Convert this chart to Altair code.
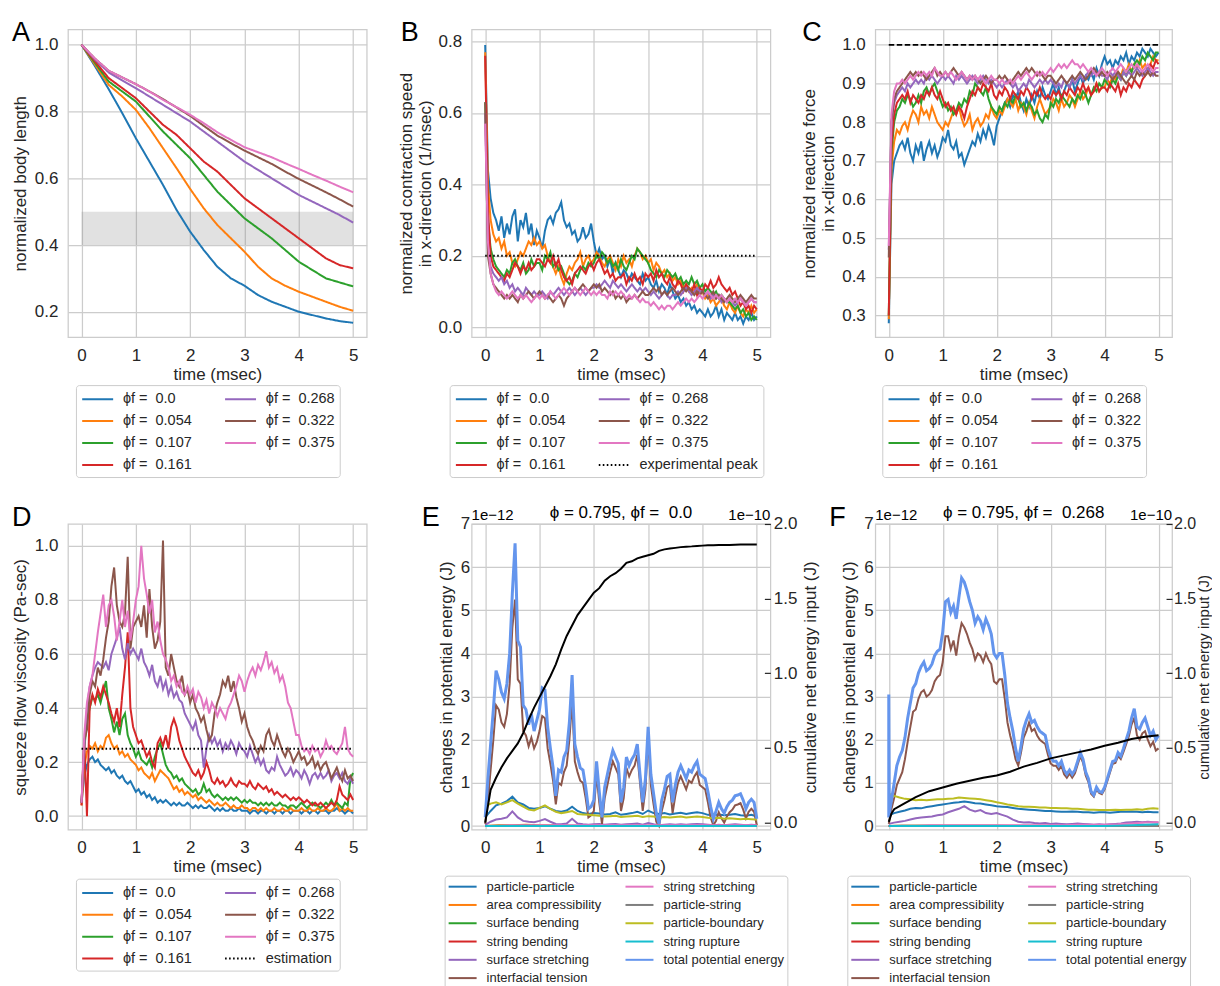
import altair as alt
import pandas as pd

FONT = "Liberation Sans"
INK = "#262626"
GRID = "#cccccc"

T05 = [round(0.05 * i, 2) for i in range(101)]
T10 = [round(0.1 * i, 1) for i in range(51)]
T25 = [round(0.25 * i, 2) for i in range(21)]

PHI = ["0.0", "0.054", "0.107", "0.161", "0.268", "0.322", "0.375"]
PHI_COLORS = ["#1f77b4", "#ff7f0e", "#2ca02c", "#d62728", "#9467bd", "#8c564b", "#e377c2"]
PHI_LABELS = ["ϕf = \u00a0" + p for p in PHI]

# ---------------- Panel A: normalized body length (T25) ----------------
A_VALS = [
    [1.0, 0.935, 0.867, 0.795, 0.72, 0.65, 0.58, 0.505, 0.44, 0.385, 0.335, 0.30, 0.278, 0.25, 0.23, 0.215, 0.20, 0.19, 0.18, 0.172, 0.167],
    [1.0, 0.94, 0.88, 0.845, 0.805, 0.75, 0.69, 0.63, 0.568, 0.51, 0.46, 0.42, 0.38, 0.335, 0.30, 0.278, 0.26, 0.245, 0.23, 0.215, 0.203],
    [1.0, 0.945, 0.89, 0.86, 0.83, 0.785, 0.74, 0.70, 0.66, 0.61, 0.56, 0.52, 0.48, 0.45, 0.42, 0.385, 0.35, 0.325, 0.30, 0.288, 0.276],
    [1.0, 0.95, 0.90, 0.87, 0.84, 0.80, 0.76, 0.73, 0.69, 0.65, 0.62, 0.58, 0.54, 0.51, 0.48, 0.45, 0.42, 0.39, 0.36, 0.34, 0.33],
    [1.0, 0.955, 0.917, 0.893, 0.87, 0.845, 0.82, 0.795, 0.77, 0.74, 0.71, 0.68, 0.65, 0.625, 0.60, 0.575, 0.55, 0.53, 0.51, 0.49, 0.467],
    [1.0, 0.958, 0.922, 0.902, 0.882, 0.86, 0.837, 0.812, 0.787, 0.757, 0.728, 0.705, 0.683, 0.663, 0.643, 0.62, 0.598, 0.578, 0.558, 0.537, 0.515],
    [1.0, 0.958, 0.922, 0.902, 0.882, 0.86, 0.835, 0.813, 0.79, 0.765, 0.738, 0.715, 0.693, 0.678, 0.663, 0.645, 0.628, 0.61, 0.593, 0.575, 0.558],
]
A_BAND = {"t0": [0.0], "t1": [5.0], "lo": [0.4], "hi": [0.5]}

# ---------------- Panel B: contraction speed (T05) ----------------
B_VALS = [
    [0.79, 0.44, 0.36, 0.32, 0.30, 0.27, 0.31, 0.25, 0.29, 0.26, 0.31, 0.33, 0.24, 0.30, 0.28, 0.32, 0.26, 0.29, 0.23, 0.27,
     0.25, 0.22, 0.27, 0.30, 0.31, 0.29, 0.32, 0.33, 0.35, 0.30, 0.28, 0.29, 0.26, 0.27, 0.24, 0.25, 0.28, 0.25, 0.26, 0.29,
     0.24, 0.20, 0.22, 0.19, 0.20, 0.17, 0.19, 0.15, 0.18, 0.16, 0.14, 0.16, 0.15, 0.13, 0.15, 0.14, 0.13, 0.12, 0.15, 0.13,
     0.14, 0.12, 0.11, 0.13, 0.10, 0.12, 0.11, 0.09, 0.12, 0.10, 0.08, 0.09, 0.07, 0.08, 0.06, 0.07, 0.05, 0.06, 0.04, 0.05,
     0.04, 0.03, 0.05, 0.03, 0.04, 0.06, 0.03, 0.05, 0.02, 0.04, 0.03, 0.02, 0.04, 0.02, 0.03, 0.01, 0.03, 0.02, 0.04, 0.02, 0.03],
    [0.77, 0.40, 0.30, 0.26, 0.24, 0.25, 0.22, 0.24, 0.20, 0.21, 0.18, 0.17, 0.19, 0.21, 0.20, 0.22, 0.24, 0.23, 0.25, 0.23,
     0.24, 0.22, 0.23, 0.20, 0.18, 0.17, 0.15, 0.17, 0.14, 0.12, 0.15, 0.17, 0.16, 0.18, 0.19, 0.21, 0.17, 0.19, 0.20, 0.18,
     0.19, 0.21, 0.20, 0.18, 0.17, 0.19, 0.20, 0.18, 0.16, 0.19, 0.17, 0.20, 0.18, 0.19, 0.17, 0.20, 0.22, 0.21, 0.19, 0.20,
     0.18, 0.19, 0.16, 0.18, 0.17, 0.15, 0.16, 0.14, 0.15, 0.13, 0.14, 0.12, 0.13, 0.11, 0.12, 0.10, 0.11, 0.10, 0.12, 0.09,
     0.10, 0.08, 0.09, 0.07, 0.08, 0.06, 0.07, 0.08, 0.06, 0.05, 0.07, 0.05, 0.04, 0.06, 0.04, 0.03, 0.05, 0.04, 0.06, 0.04, 0.05],
    [0.63, 0.30, 0.22, 0.19, 0.17, 0.16, 0.15, 0.14, 0.16, 0.15, 0.18, 0.19, 0.17, 0.16, 0.18, 0.15, 0.16, 0.19, 0.17, 0.18,
     0.18, 0.16, 0.20, 0.19, 0.21, 0.17, 0.18, 0.16, 0.17, 0.15, 0.13, 0.12, 0.13, 0.15, 0.14, 0.16, 0.17, 0.16, 0.18, 0.17,
     0.18, 0.20, 0.19, 0.21, 0.20, 0.18, 0.19, 0.17, 0.18, 0.16, 0.19, 0.17, 0.16, 0.18, 0.20, 0.19, 0.22, 0.21, 0.20, 0.19,
     0.18, 0.16, 0.15, 0.14, 0.16, 0.15, 0.14, 0.16, 0.15, 0.14, 0.15, 0.13, 0.14, 0.12, 0.13, 0.12, 0.14, 0.12, 0.13, 0.11,
     0.12, 0.10, 0.11, 0.10, 0.09, 0.10, 0.08, 0.09, 0.08, 0.07, 0.07, 0.06, 0.05, 0.06, 0.04, 0.05, 0.03, 0.04, 0.02, 0.03, 0.02],
    [0.76, 0.33, 0.20, 0.17, 0.16, 0.15, 0.14, 0.13, 0.15, 0.14, 0.16, 0.18, 0.17, 0.15, 0.17, 0.16, 0.18, 0.16, 0.17, 0.19,
     0.19, 0.18, 0.17, 0.19, 0.18, 0.20, 0.17, 0.19, 0.16, 0.14, 0.13, 0.14, 0.12, 0.15, 0.16, 0.17, 0.16, 0.15, 0.17, 0.18,
     0.16, 0.18, 0.19, 0.17, 0.15, 0.16, 0.14, 0.15, 0.13, 0.14, 0.14, 0.15, 0.12, 0.14, 0.13, 0.15, 0.13, 0.14, 0.12, 0.15,
     0.14, 0.15, 0.13, 0.16, 0.14, 0.15, 0.13, 0.12, 0.14, 0.12, 0.11, 0.13, 0.12, 0.10, 0.12, 0.11, 0.10, 0.12, 0.09, 0.11,
     0.10, 0.12, 0.11, 0.13, 0.11, 0.12, 0.14, 0.12, 0.11, 0.10, 0.11, 0.09, 0.10, 0.08, 0.06, 0.07, 0.05, 0.06, 0.04, 0.06, 0.05],
    [0.60, 0.22, 0.17, 0.15, 0.14, 0.13, 0.14, 0.12, 0.13, 0.11, 0.12, 0.10, 0.11, 0.10, 0.09, 0.11, 0.10, 0.09, 0.10, 0.09,
     0.09, 0.10, 0.09, 0.08, 0.10, 0.09, 0.10, 0.11, 0.10, 0.09, 0.10, 0.11, 0.10, 0.09, 0.10, 0.11, 0.10, 0.09, 0.10, 0.11,
     0.11, 0.12, 0.11, 0.12, 0.13, 0.12, 0.11, 0.13, 0.12, 0.11, 0.12, 0.11, 0.10, 0.11, 0.12, 0.11, 0.10, 0.11, 0.10, 0.11,
     0.10, 0.09, 0.10, 0.09, 0.08, 0.09, 0.10, 0.09, 0.08, 0.09, 0.09, 0.10, 0.09, 0.10, 0.11, 0.10, 0.09, 0.10, 0.11, 0.10,
     0.10, 0.09, 0.10, 0.08, 0.09, 0.08, 0.09, 0.07, 0.08, 0.07, 0.08, 0.07, 0.06, 0.07, 0.08, 0.07, 0.06, 0.07, 0.08, 0.07, 0.07],
    [0.63, 0.20, 0.15, 0.12, 0.11, 0.10, 0.09, 0.08, 0.09, 0.08, 0.09, 0.08, 0.07, 0.09, 0.08, 0.09, 0.10, 0.09, 0.08, 0.09,
     0.10, 0.09, 0.08, 0.09, 0.08, 0.07, 0.08, 0.09, 0.08, 0.06, 0.08, 0.09, 0.10, 0.11, 0.10, 0.11, 0.12, 0.11, 0.10, 0.11,
     0.12, 0.11, 0.12, 0.10, 0.11, 0.10, 0.09, 0.10, 0.08, 0.09, 0.08, 0.09, 0.07, 0.08, 0.08, 0.09, 0.08, 0.09, 0.10, 0.09,
     0.09, 0.10, 0.11, 0.10, 0.11, 0.09, 0.10, 0.09, 0.10, 0.11, 0.10, 0.09, 0.10, 0.11, 0.10, 0.11, 0.10, 0.09, 0.10, 0.09,
     0.10, 0.09, 0.08, 0.09, 0.10, 0.08, 0.09, 0.08, 0.07, 0.08, 0.09, 0.08, 0.07, 0.08, 0.09, 0.08, 0.07, 0.08, 0.09, 0.08, 0.08],
    [0.57, 0.24, 0.15, 0.12, 0.10, 0.09, 0.10, 0.09, 0.08, 0.09, 0.10, 0.09, 0.08, 0.09, 0.08, 0.09, 0.08, 0.07, 0.08, 0.09,
     0.08, 0.09, 0.08, 0.09, 0.10, 0.09, 0.08, 0.09, 0.10, 0.11, 0.10, 0.09, 0.10, 0.11, 0.10, 0.09, 0.10, 0.11, 0.10, 0.09,
     0.10, 0.09, 0.10, 0.09, 0.09, 0.08, 0.10, 0.09, 0.10, 0.09, 0.10, 0.09, 0.08, 0.09, 0.08, 0.09, 0.08, 0.07, 0.08, 0.07,
     0.07, 0.06, 0.07, 0.06, 0.05, 0.06, 0.05, 0.06, 0.06, 0.05, 0.06, 0.07, 0.06, 0.07, 0.08, 0.07, 0.08, 0.07, 0.08, 0.09,
     0.08, 0.09, 0.10, 0.09, 0.08, 0.09, 0.08, 0.09, 0.08, 0.07, 0.08, 0.07, 0.08, 0.07, 0.08, 0.07, 0.06, 0.07, 0.08, 0.07, 0.07],
]
B_PEAK = 0.2

# ---------------- Panel C: reactive force (T05) ----------------
C_VALS = [
    [0.28, 0.64, 0.70, 0.72, 0.74, 0.75, 0.73, 0.76, 0.72, 0.70, 0.74, 0.72, 0.75, 0.70, 0.73, 0.75, 0.72, 0.74, 0.71, 0.73,
     0.76, 0.75, 0.78, 0.74, 0.73, 0.75, 0.71, 0.72, 0.69, 0.71, 0.73, 0.75, 0.74, 0.77, 0.75, 0.78, 0.76, 0.79, 0.77, 0.74,
     0.79, 0.81, 0.83, 0.85, 0.86, 0.84, 0.87, 0.86, 0.88, 0.85, 0.83, 0.86, 0.84, 0.87, 0.85, 0.88, 0.86, 0.89, 0.87, 0.86,
     0.88, 0.90, 0.87, 0.89, 0.86, 0.88, 0.90, 0.89, 0.91, 0.88, 0.90, 0.92, 0.90, 0.92, 0.91, 0.93, 0.91, 0.94, 0.92, 0.95,
     0.97, 0.95, 0.96, 0.94, 0.96, 0.95, 0.97, 0.96, 0.98, 0.95, 0.97, 0.96, 0.98, 0.97, 0.99, 0.98, 0.97, 0.99, 0.98, 0.97, 0.98],
    [0.29, 0.68, 0.75, 0.78, 0.77, 0.79, 0.80, 0.78, 0.81, 0.83, 0.82, 0.80, 0.84, 0.82, 0.83, 0.81, 0.84, 0.82, 0.80, 0.79,
     0.78, 0.80, 0.79, 0.81, 0.83, 0.82, 0.84, 0.81, 0.79, 0.80, 0.82, 0.78, 0.80, 0.81, 0.79, 0.80, 0.82, 0.81, 0.84, 0.82,
     0.81, 0.83, 0.82, 0.84, 0.86, 0.85, 0.84, 0.86, 0.83, 0.85, 0.84, 0.82, 0.85, 0.83, 0.81, 0.84, 0.86, 0.84, 0.82, 0.83,
     0.84, 0.86, 0.85, 0.83, 0.86, 0.84, 0.85, 0.87, 0.86, 0.84, 0.86, 0.88, 0.86, 0.87, 0.89, 0.87, 0.88, 0.90, 0.88, 0.89,
     0.89, 0.91, 0.90, 0.92, 0.91, 0.93, 0.92, 0.94, 0.93, 0.95, 0.93, 0.95, 0.94, 0.96, 0.94, 0.95, 0.93, 0.95, 0.97, 0.96, 0.96],
    [0.30, 0.72, 0.80, 0.83, 0.84, 0.86, 0.85, 0.87, 0.86, 0.84, 0.85, 0.87, 0.85, 0.88, 0.89, 0.87, 0.89, 0.90, 0.88, 0.86,
     0.84, 0.85, 0.83, 0.84, 0.82, 0.83, 0.85, 0.84, 0.86, 0.85, 0.88, 0.87, 0.90, 0.89, 0.88, 0.87, 0.89, 0.86, 0.84, 0.83,
     0.82, 0.84, 0.83, 0.85, 0.84, 0.86, 0.85, 0.87, 0.86, 0.84, 0.85, 0.83, 0.85, 0.84, 0.82, 0.83, 0.81, 0.80, 0.82, 0.81,
     0.85, 0.84, 0.86, 0.85, 0.87, 0.86, 0.85, 0.84, 0.86, 0.85, 0.87, 0.86, 0.88, 0.87, 0.85, 0.87, 0.89, 0.88, 0.90, 0.89,
     0.91, 0.90, 0.89, 0.91, 0.90, 0.92, 0.91, 0.93, 0.92, 0.94, 0.93, 0.95, 0.96, 0.95, 0.97, 0.96, 0.98, 0.97, 0.96, 0.98, 0.98],
    [0.30, 0.74, 0.82, 0.85, 0.86, 0.87, 0.86, 0.88, 0.85, 0.87, 0.86, 0.85, 0.87, 0.86, 0.88, 0.87, 0.89, 0.87, 0.86, 0.88,
     0.86, 0.84, 0.85, 0.83, 0.84, 0.82, 0.84, 0.83, 0.81, 0.84, 0.86, 0.88, 0.87, 0.89, 0.88, 0.90, 0.89, 0.88, 0.90, 0.87,
     0.86, 0.88, 0.87, 0.89, 0.88, 0.86, 0.88, 0.87, 0.86, 0.88, 0.87, 0.89, 0.88, 0.86, 0.88, 0.87, 0.89, 0.87, 0.86, 0.87,
     0.86, 0.88, 0.87, 0.88, 0.86, 0.88, 0.87, 0.89, 0.88, 0.87, 0.89, 0.88, 0.90, 0.88, 0.89, 0.87, 0.88, 0.90, 0.88, 0.89,
     0.89, 0.88, 0.90, 0.89, 0.88, 0.90, 0.87, 0.89, 0.88, 0.90, 0.89, 0.91, 0.90, 0.89, 0.91, 0.92, 0.93, 0.95, 0.94, 0.96, 0.95],
    [0.47, 0.80, 0.85, 0.87, 0.88, 0.89, 0.88, 0.90, 0.89, 0.90, 0.91, 0.90, 0.91, 0.90, 0.92, 0.91, 0.92, 0.91, 0.90, 0.91,
     0.92, 0.91, 0.92, 0.91, 0.90, 0.92, 0.91, 0.92, 0.91, 0.90, 0.91, 0.92, 0.91, 0.90, 0.91, 0.92, 0.91, 0.90, 0.91, 0.90,
     0.89, 0.90, 0.89, 0.90, 0.91, 0.90, 0.89, 0.90, 0.88, 0.89, 0.90, 0.89, 0.91, 0.90, 0.89, 0.90, 0.91, 0.90, 0.91, 0.90,
     0.91, 0.90, 0.89, 0.90, 0.89, 0.91, 0.90, 0.89, 0.91, 0.90, 0.91, 0.92, 0.91, 0.92, 0.93, 0.92, 0.93, 0.92, 0.93, 0.92,
     0.92, 0.91, 0.93, 0.92, 0.93, 0.92, 0.91, 0.93, 0.92, 0.93, 0.92, 0.93, 0.94, 0.93, 0.92, 0.93, 0.94, 0.93, 0.92, 0.93, 0.93],
    [0.45, 0.80, 0.86, 0.88, 0.89, 0.90, 0.91, 0.92, 0.93, 0.92, 0.93, 0.92, 0.93, 0.92, 0.91, 0.92, 0.93, 0.94, 0.92, 0.93,
     0.92, 0.93, 0.92, 0.93, 0.94, 0.93, 0.92, 0.93, 0.92, 0.91, 0.92, 0.91, 0.92, 0.91, 0.90, 0.91, 0.92, 0.91, 0.90, 0.91,
     0.91, 0.92, 0.91, 0.92, 0.91, 0.90, 0.91, 0.92, 0.93, 0.92, 0.93, 0.94, 0.93, 0.94, 0.93, 0.92, 0.93, 0.92, 0.91, 0.92,
     0.92, 0.91, 0.90, 0.91, 0.92, 0.91, 0.90, 0.91, 0.92, 0.91, 0.92, 0.93, 0.92, 0.91, 0.92, 0.93, 0.94, 0.93, 0.92, 0.93,
     0.92, 0.93, 0.92, 0.91, 0.92, 0.93, 0.92, 0.91, 0.90, 0.91, 0.92, 0.91, 0.93, 0.92, 0.93, 0.92, 0.93, 0.92, 0.93, 0.92, 0.92],
    [0.48, 0.82, 0.88, 0.90, 0.90, 0.91, 0.90, 0.91, 0.92, 0.91, 0.92, 0.93, 0.92, 0.93, 0.92, 0.93, 0.92, 0.94, 0.93, 0.92,
     0.92, 0.93, 0.92, 0.93, 0.92, 0.91, 0.92, 0.93, 0.92, 0.91, 0.92, 0.91, 0.92, 0.91, 0.92, 0.91, 0.90, 0.91, 0.92, 0.91,
     0.91, 0.90, 0.91, 0.90, 0.90, 0.91, 0.90, 0.91, 0.92, 0.91, 0.92, 0.93, 0.92, 0.91, 0.92, 0.93, 0.92, 0.93, 0.92, 0.93,
     0.94, 0.93, 0.94, 0.95, 0.94, 0.95, 0.94, 0.95, 0.96, 0.95, 0.95, 0.94, 0.95, 0.94, 0.93, 0.94, 0.93, 0.92, 0.93, 0.94,
     0.93, 0.92, 0.93, 0.94, 0.93, 0.94, 0.95, 0.94, 0.93, 0.94, 0.95, 0.94, 0.95, 0.94, 0.93, 0.94, 0.95, 0.94, 0.93, 0.94, 0.94],
]
C_REF = 1.0

# ---------------- Panel D: squeeze flow viscosity (T05) ----------------
D_VALS = [
    [0.05, 0.15, 0.19, 0.21, 0.22, 0.20, 0.21, 0.19, 0.18, 0.17, 0.18, 0.16, 0.17, 0.15, 0.14, 0.15, 0.13, 0.12, 0.13, 0.11,
     0.09, 0.10, 0.08, 0.09, 0.07, 0.08, 0.06, 0.07, 0.05, 0.06, 0.05, 0.06, 0.05, 0.04, 0.05, 0.04, 0.05, 0.04, 0.04, 0.05,
     0.04, 0.03, 0.04, 0.03, 0.04, 0.03, 0.03, 0.04, 0.03, 0.02, 0.03, 0.02, 0.03, 0.02, 0.02, 0.03, 0.02, 0.02, 0.03, 0.02,
     0.02, 0.02, 0.01, 0.02, 0.02, 0.01, 0.02, 0.02, 0.01, 0.02, 0.02, 0.01, 0.02, 0.02, 0.01, 0.02, 0.02, 0.01, 0.02, 0.02,
     0.02, 0.01, 0.02, 0.02, 0.01, 0.02, 0.02, 0.01, 0.02, 0.02, 0.02, 0.01, 0.02, 0.02, 0.03, 0.02, 0.02, 0.01, 0.02, 0.02, 0.01],
    [0.04, 0.18, 0.24, 0.26, 0.25, 0.27, 0.24, 0.26, 0.25, 0.29, 0.30, 0.27, 0.25, 0.26, 0.23, 0.24, 0.22, 0.23, 0.21, 0.20,
     0.19, 0.17, 0.18, 0.16, 0.15, 0.14, 0.16, 0.13, 0.15, 0.17, 0.16, 0.15, 0.14, 0.12, 0.10, 0.11, 0.09, 0.10, 0.08, 0.09,
     0.08, 0.07, 0.08, 0.06, 0.07, 0.06, 0.05, 0.06, 0.05, 0.04, 0.05, 0.04, 0.04, 0.05, 0.04, 0.03, 0.04, 0.03, 0.03, 0.04,
     0.03, 0.03, 0.02, 0.03, 0.03, 0.02, 0.03, 0.02, 0.03, 0.02, 0.02, 0.03, 0.02, 0.02, 0.03, 0.02, 0.02, 0.03, 0.02, 0.02,
     0.02, 0.03, 0.02, 0.02, 0.03, 0.02, 0.02, 0.03, 0.02, 0.02, 0.03, 0.02, 0.02, 0.03, 0.05, 0.02, 0.03, 0.02, 0.03, 0.02, 0.02],
    [0.05, 0.25, 0.35, 0.40, 0.44, 0.43, 0.45, 0.42, 0.46, 0.50, 0.40, 0.36, 0.31, 0.35, 0.30, 0.36, 0.38, 0.30, 0.27, 0.25,
     0.22, 0.24, 0.21, 0.20, 0.19, 0.21, 0.18, 0.22, 0.25, 0.27, 0.23, 0.19, 0.17, 0.16, 0.14, 0.15, 0.13, 0.14, 0.12, 0.11,
     0.10, 0.09, 0.10, 0.08, 0.09, 0.12, 0.09, 0.10, 0.08, 0.07, 0.08, 0.07, 0.06, 0.07, 0.06, 0.07, 0.06, 0.07, 0.06, 0.05,
     0.06, 0.05, 0.06, 0.05, 0.05, 0.04, 0.05, 0.04, 0.05, 0.04, 0.05, 0.04, 0.04, 0.05, 0.04, 0.04, 0.03, 0.04, 0.04, 0.03,
     0.04, 0.05, 0.04, 0.03, 0.04, 0.05, 0.04, 0.04, 0.03, 0.04, 0.05, 0.04, 0.06, 0.04, 0.05, 0.04, 0.03, 0.05, 0.04, 0.14, 0.16],
    [0.04, 0.28, 0.00, 0.40, 0.45, 0.42, 0.47, 0.44, 0.48, 0.45, 0.42, 0.38, 0.35, 0.40, 0.33, 0.45, 0.55, 0.68, 0.40, 0.33,
     0.30, 0.27, 0.28, 0.25, 0.22, 0.24, 0.20, 0.18, 0.27, 0.29, 0.26, 0.30, 0.25, 0.33, 0.36, 0.33, 0.28, 0.25, 0.22, 0.20,
     0.18, 0.16, 0.15, 0.17, 0.14, 0.16, 0.20, 0.17, 0.13, 0.12, 0.14, 0.12, 0.13, 0.11, 0.12, 0.14, 0.12, 0.11, 0.13, 0.12,
     0.12, 0.11, 0.13, 0.11, 0.10, 0.12, 0.11, 0.10, 0.11, 0.09, 0.10, 0.08, 0.09, 0.08, 0.07, 0.08, 0.07, 0.06, 0.07, 0.06,
     0.07, 0.06, 0.05, 0.06, 0.05, 0.04, 0.05, 0.04, 0.05, 0.04, 0.03, 0.04, 0.05, 0.04, 0.06, 0.11, 0.08, 0.07, 0.06, 0.08, 0.06],
    [0.05, 0.25, 0.40, 0.48, 0.52, 0.55, 0.57, 0.56, 0.55, 0.57, 0.54, 0.60, 0.63, 0.66, 0.70, 0.62, 0.58, 0.64, 0.60, 0.62,
     0.60, 0.58, 0.62, 0.57, 0.55, 0.52, 0.56, 0.50, 0.48, 0.52, 0.47, 0.50, 0.45, 0.48, 0.44, 0.46, 0.43, 0.42, 0.38, 0.36,
     0.34, 0.32, 0.35, 0.30, 0.28, 0.18, 0.25, 0.30, 0.27, 0.29, 0.26, 0.28, 0.24, 0.27, 0.25, 0.28, 0.26, 0.23, 0.27, 0.25,
     0.24, 0.22, 0.26, 0.23, 0.20, 0.22, 0.19, 0.21, 0.17, 0.16, 0.18, 0.17, 0.22, 0.19, 0.17, 0.15, 0.16, 0.18, 0.15, 0.17,
     0.16, 0.14, 0.17, 0.15, 0.12, 0.15, 0.16, 0.14, 0.16, 0.14, 0.15, 0.17, 0.13, 0.15, 0.16, 0.14, 0.16, 0.13, 0.12, 0.14, 0.12],
    [0.05, 0.28, 0.32, 0.45, 0.50, 0.48, 0.55, 0.52, 0.58, 0.66, 0.72, 0.85, 0.92, 0.78, 0.72, 0.70, 0.75, 0.96, 0.62, 0.70,
     0.72, 0.74, 0.70, 0.78, 0.66, 0.84, 0.70, 0.62, 0.65, 0.72, 1.02, 0.55, 0.52, 0.60, 0.55, 0.50, 0.48, 0.52, 0.45, 0.47,
     0.42, 0.45, 0.40, 0.38, 0.35, 0.37, 0.32, 0.28, 0.30, 0.38, 0.42, 0.45, 0.50, 0.48, 0.52, 0.46, 0.50, 0.44, 0.40, 0.35,
     0.38, 0.33, 0.30, 0.28, 0.25, 0.23, 0.26, 0.24, 0.30, 0.32, 0.28, 0.26, 0.30, 0.27, 0.24, 0.22, 0.25, 0.23, 0.20, 0.22,
     0.24, 0.21, 0.22, 0.19, 0.20, 0.22, 0.18, 0.20, 0.17, 0.19, 0.20, 0.17, 0.14, 0.16, 0.18, 0.15, 0.13, 0.17, 0.14, 0.15, 0.13],
    [0.05, 0.30, 0.42, 0.48, 0.52, 0.60, 0.68, 0.75, 0.82, 0.70, 0.78, 0.80, 0.74, 0.65, 0.72, 0.80, 0.70, 0.76, 0.65, 0.72,
     0.80, 0.85, 1.00, 0.88, 0.82, 0.75, 0.80, 0.68, 0.72, 0.65, 0.60, 0.58, 0.55, 0.50, 0.52, 0.48, 0.50, 0.46, 0.45, 0.48,
     0.45, 0.47, 0.42, 0.46, 0.44, 0.40, 0.43, 0.38, 0.42, 0.40, 0.37, 0.40, 0.38, 0.36, 0.40, 0.42, 0.45, 0.48, 0.52, 0.50,
     0.46, 0.50, 0.53, 0.55, 0.52, 0.56, 0.54, 0.57, 0.61, 0.55, 0.57, 0.53, 0.55, 0.50, 0.52, 0.48, 0.42, 0.40, 0.35, 0.30,
     0.30, 0.26, 0.24, 0.25, 0.23, 0.26, 0.24, 0.25, 0.22, 0.24, 0.28, 0.25, 0.26, 0.24, 0.23, 0.25, 0.27, 0.33, 0.25, 0.23, 0.22],
]
D_EST = 0.25

# ---------------- Panels E, F: energies (left axis x1e-12, right axis x1e-10) ----------------
EN_NAMES = ["particle-particle", "area compressibility", "surface bending", "string bending",
            "surface stretching", "interfacial tension", "string stretching", "particle-string",
            "particle-boundary", "string rupture", "total potential energy"]
EN_COLORS = ["#1f77b4", "#ff7f0e", "#2ca02c", "#d62728", "#9467bd", "#8c564b",
             "#e377c2", "#7f7f7f", "#bcbd22", "#17becf", "#6495ed"]

E_PP = [0.20, 0.35, 0.48, 0.52, 0.58, 0.68, 0.55, 0.50, 0.42, 0.40, 0.42, 0.46, 0.40, 0.35, 0.33, 0.36, 0.45, 0.35, 0.30, 0.28,
        0.30, 0.29, 0.27, 0.28, 0.32, 0.26, 0.28, 0.30, 0.33, 0.28, 0.36, 0.30, 0.28, 0.30, 0.27, 0.29, 0.31, 0.28, 0.30, 0.32,
        0.30, 0.26, 0.25, 0.27, 0.25, 0.26, 0.28, 0.25, 0.24, 0.26, 0.22]
E_AC = [0.0, 0.02, 0.02, 0.03, 0.02, 0.02, 0.01, 0.01, 0.01, 0.01, 0.01, 0.01, 0.01, 0.01, 0.01, 0.01, 0.01, 0.01, 0.01, 0.01, 0.01]
E_SB = [0.0, 0.01, 0.01, 0.02, 0.01, 0.01, 0.01, 0.0, 0.01, 0.0, 0.0, 0.0, 0.0, 0.0, 0.0, 0.0, 0.0, 0.0, 0.0, 0.0, 0.0]
E_STB = [0.0, 0.0, 0.0, 0.0, 0.0, 0.0, 0.0, 0.0, 0.0, 0.0, 0.0, 0.0, 0.0, 0.0, 0.0, 0.0, 0.0, 0.0, 0.0, 0.0, 0.0]
E_SS = [0.03, 0.10, 0.15, 0.17, 0.20, 0.34, 0.20, 0.12, 0.10, 0.09, 0.12, 0.16, 0.10, 0.05, 0.04, 0.06, 0.17, 0.06, 0.04, 0.03,
        0.04, 0.05, 0.03, 0.04, 0.05, 0.03, 0.04, 0.05, 0.06, 0.03, 0.07, 0.04, 0.02, 0.03, 0.04, 0.03, 0.04, 0.03, 0.04, 0.05,
        0.04, 0.03, 0.02, 0.03, 0.02, 0.03, 0.04, 0.03, 0.02, 0.03, 0.02]
E_IT = [0.05, 0.60, 1.30, 2.00, 2.80, 2.70, 2.40, 2.30, 2.60, 3.30, 4.60, 5.25, 3.40, 3.30, 2.20, 2.10, 1.85, 2.05, 1.80, 1.95,
        2.20, 2.55, 2.50, 1.80, 1.45, 1.05, 0.50, 1.00, 0.95, 1.25, 1.40, 2.00, 2.90, 1.50, 1.25, 1.05, 1.00, 0.65, 0.20, 0.25,
        0.35, 1.20, 0.55, 0.05, 0.65, 0.95, 1.25, 1.50, 1.35, 1.20, 0.35, 0.65, 1.35, 1.15, 1.30, 1.40, 1.65, 1.00, 0.35, 0.85,
        2.05, 0.95, 0.50, 0.10, 0.00, 0.35, 0.60, 0.90, 0.95, 0.30, 0.70, 1.00, 1.15, 1.00, 0.85, 1.05, 1.00, 1.15, 1.25, 0.95,
        0.90, 0.85, 0.55, 0.20, 0.02, 0.12, 0.32, 0.18, 0.08, 0.22, 0.32, 0.38, 0.48, 0.50, 0.53, 0.38, 0.18, 0.33, 0.40, 0.33, 0.02]
E_SST = [0.0, 0.01, 0.02, 0.02, 0.02, 0.02, 0.02, 0.02, 0.02, 0.02, 0.02, 0.02, 0.02, 0.02, 0.02, 0.02, 0.02, 0.02, 0.02, 0.02, 0.02]
E_PS = [0.0, 0.0, 0.0, 0.0, 0.0, 0.0, 0.0, 0.0, 0.0, 0.0, 0.0, 0.0, 0.0, 0.0, 0.0, 0.0, 0.0, 0.0, 0.0, 0.0, 0.0]
E_PB = [0.45, 0.52, 0.55, 0.50, 0.55, 0.60, 0.52, 0.45, 0.38, 0.36, 0.42, 0.48, 0.40, 0.33, 0.30, 0.32, 0.35, 0.28, 0.27, 0.26,
        0.25, 0.24, 0.22, 0.23, 0.24, 0.21, 0.22, 0.23, 0.24, 0.21, 0.23, 0.22, 0.20, 0.21, 0.20, 0.21, 0.22, 0.20, 0.21, 0.22,
        0.21, 0.19, 0.18, 0.19, 0.17, 0.18, 0.17, 0.16, 0.17, 0.16, 0.15]
E_SR = [0.0, 0.0, 0.0, 0.0, 0.0, 0.0, 0.0, 0.0, 0.0, 0.0, 0.0, 0.0, 0.0, 0.0, 0.0, 0.0, 0.0, 0.0, 0.0, 0.0, 0.0]
E_TOT = [0.20, 1.10, 1.90, 2.70, 3.60, 3.40, 3.10, 2.95, 3.30, 4.00, 5.40, 6.55, 4.30, 4.15, 2.80, 2.70, 2.35, 2.60, 2.20, 2.45,
         2.70, 3.20, 3.15, 2.30, 1.80, 1.35, 0.70, 1.30, 1.25, 1.60, 1.75, 2.40, 3.50, 1.90, 1.60, 1.35, 1.30, 0.90, 0.40, 0.45,
         0.60, 1.50, 0.80, 0.20, 0.90, 1.20, 1.50, 1.75, 1.60, 1.45, 0.55, 0.90, 1.60, 1.40, 1.55, 1.65, 1.90, 1.20, 0.55, 1.10,
         2.30, 1.20, 0.75, 0.30, 0.05, 0.60, 0.85, 1.15, 1.20, 0.55, 0.95, 1.25, 1.40, 1.25, 1.10, 1.30, 1.25, 1.40, 1.50, 1.20,
         1.15, 1.10, 0.80, 0.45, 0.17, 0.35, 0.55, 0.40, 0.30, 0.45, 0.55, 0.60, 0.70, 0.72, 0.75, 0.60, 0.40, 0.55, 0.62, 0.55, 0.17]
E_CUM = [0.0, 0.22, 0.30, 0.37, 0.43, 0.48, 0.53, 0.60, 0.69, 0.77, 0.84, 0.91, 0.98, 1.06, 1.16, 1.25, 1.32, 1.39, 1.44, 1.49,
         1.54, 1.57, 1.62, 1.65, 1.67, 1.70, 1.74, 1.75, 1.77, 1.78, 1.79, 1.80, 1.82, 1.83, 1.835, 1.84, 1.845, 1.848, 1.85, 1.853,
         1.855, 1.857, 1.858, 1.859, 1.86, 1.86, 1.861, 1.862, 1.862, 1.863, 1.863]

F_PP = [0.25, 0.30, 0.33, 0.36, 0.40, 0.42, 0.41, 0.44, 0.46, 0.48, 0.50, 0.52, 0.54, 0.55, 0.57, 0.55, 0.53, 0.52, 0.50, 0.48,
        0.46, 0.45, 0.44, 0.42, 0.40, 0.39, 0.38, 0.37, 0.36, 0.35, 0.35, 0.34, 0.33, 0.33, 0.34, 0.33, 0.32, 0.32, 0.31, 0.32,
        0.32, 0.31, 0.32, 0.33, 0.33, 0.34, 0.33, 0.32, 0.33, 0.32, 0.32]
F_AC = [0.0, 0.01, 0.01, 0.01, 0.01, 0.01, 0.01, 0.01, 0.01, 0.01, 0.01, 0.01, 0.01, 0.01, 0.01, 0.01, 0.01, 0.01, 0.01, 0.01, 0.01]
F_SB = [0.0, 0.01, 0.01, 0.01, 0.01, 0.01, 0.01, 0.01, 0.01, 0.0, 0.0, 0.0, 0.0, 0.0, 0.0, 0.0, 0.0, 0.0, 0.0, 0.0, 0.0]
F_STB = [0.0, 0.0, 0.0, 0.0, 0.0, 0.0, 0.0, 0.0, 0.0, 0.0, 0.0, 0.0, 0.0, 0.0, 0.0, 0.0, 0.0, 0.0, 0.0, 0.0, 0.0]
F_SS = [0.05, 0.08, 0.10, 0.12, 0.15, 0.18, 0.20, 0.21, 0.22, 0.25, 0.27, 0.32, 0.36, 0.40, 0.46, 0.38, 0.34, 0.37, 0.30, 0.28,
        0.30, 0.26, 0.22, 0.15, 0.10, 0.08, 0.09, 0.07, 0.06, 0.07, 0.05, 0.06, 0.05, 0.04, 0.05, 0.06, 0.05, 0.04, 0.03, 0.04,
        0.03, 0.04, 0.05, 0.06, 0.08, 0.09, 0.10, 0.09, 0.10, 0.09, 0.08]
F_IT = [0.05, 0.40, 0.65, 0.95, 1.10, 1.25, 1.55, 1.95, 2.30, 2.65, 2.70, 2.95, 3.10, 3.15, 3.00, 3.05, 3.15, 3.35, 3.45, 3.50,
        3.80, 4.40, 4.40, 4.10, 4.30, 3.95, 4.40, 4.70, 4.60, 4.45, 4.25, 4.10, 3.85, 4.00, 3.95, 3.80, 4.00, 3.85, 3.75, 3.35,
        3.30, 3.40, 3.40, 2.95, 2.40, 2.10, 1.85, 1.55, 1.40, 1.70, 2.05, 2.20, 2.40, 2.20, 2.25, 2.10, 2.00, 1.95, 1.90, 1.65,
        1.45, 1.40, 1.40, 1.30, 1.40, 1.20, 1.12, 1.22, 1.12, 1.22, 1.42, 1.62, 1.47, 1.17, 1.02, 0.75, 0.68, 0.85, 0.77, 0.74,
        0.85, 1.04, 1.24, 1.44, 1.46, 1.62, 1.55, 1.72, 1.90, 2.08, 2.35, 2.50, 2.10, 2.00, 2.15, 2.20, 2.00, 1.85, 1.95, 1.75, 1.80]
F_SST = [0.0, 0.01, 0.01, 0.02, 0.02, 0.02, 0.02, 0.02, 0.02, 0.02, 0.02, 0.02, 0.02, 0.02, 0.03, 0.03, 0.03, 0.04, 0.06, 0.08, 0.09]
F_PS = [0.0, 0.0, 0.0, 0.0, 0.0, 0.0, 0.0, 0.0, 0.0, 0.0, 0.0, 0.0, 0.0, 0.0, 0.0, 0.0, 0.0, 0.0, 0.0, 0.0, 0.0]
F_PB = [0.75, 0.70, 0.66, 0.63, 0.62, 0.60, 0.61, 0.60, 0.61, 0.62, 0.62, 0.63, 0.64, 0.66, 0.65, 0.64, 0.63, 0.62, 0.60, 0.58,
        0.55, 0.53, 0.50, 0.48, 0.46, 0.45, 0.45, 0.44, 0.43, 0.43, 0.42, 0.42, 0.41, 0.41, 0.40, 0.40, 0.39, 0.38, 0.38, 0.37,
        0.37, 0.37, 0.38, 0.37, 0.38, 0.38, 0.39, 0.38, 0.40, 0.41, 0.40]
F_SR = [0.0, 0.0, 0.0, 0.0, 0.0, 0.0, 0.0, 0.0, 0.0, 0.0, 0.0, 0.0, 0.0, 0.0, 0.0, 0.0, 0.0, 0.01, 0.02, 0.03, 0.04]
F_TOT_T = [0.0, 0.0, 0.01] + T05[1:]
F_TOT = [0.20, 3.05, 0.30,
         0.60, 1.00, 1.40, 1.60, 1.75, 2.05, 2.50, 2.85, 3.20, 3.30, 3.55, 3.70, 3.80, 3.60, 3.65, 3.75, 3.95, 4.05, 4.10,
         4.50, 5.20, 5.25, 4.95, 5.10, 4.80, 5.30, 5.75, 5.65, 5.45, 5.20, 5.00, 4.70, 4.85, 4.75, 4.55, 4.80, 4.65, 4.45, 4.00,
         3.90, 4.00, 4.00, 3.50, 2.85, 2.50, 2.20, 1.80, 1.50, 1.85, 2.25, 2.45, 2.60, 2.40, 2.45, 2.30, 2.20, 2.15, 2.10, 1.80,
         1.60, 1.50, 1.50, 1.40, 1.50, 1.30, 1.20, 1.30, 1.20, 1.30, 1.50, 1.70, 1.55, 1.25, 1.10, 0.80, 0.72, 0.90, 0.80, 0.78,
         0.90, 1.10, 1.30, 1.50, 1.52, 1.70, 1.62, 1.80, 2.00, 2.20, 2.50, 2.72, 2.30, 2.25, 2.40, 2.50, 2.30, 2.10, 2.20, 2.00, 2.10]
F_CUM_T = [0.0, 0.05, 0.1] + T25[1:]
F_CUM = [0.005, 0.06, 0.09, 0.12, 0.17, 0.21, 0.235, 0.26, 0.28, 0.30, 0.315, 0.34, 0.375, 0.40, 0.43, 0.45, 0.47, 0.49,
         0.515, 0.535, 0.56, 0.575, 0.585]


# ---------------- helpers ----------------
ONE = pd.DataFrame({"a": [0]})


def long_frame(entries):
    rows = []
    for name, ts, vs in entries:
        for i, (t, v) in enumerate(zip(ts, vs)):
            rows.append({"t": t, "v": v, "s": name, "i": i})
    return pd.DataFrame(rows)


def xenc():
    return alt.X("t:Q", scale=alt.Scale(domain=[-0.25, 5.25], nice=False, zero=False),
                 axis=alt.Axis(title="time (msec)", values=[0, 1, 2, 3, 4, 5], format="d",
                               labelPadding=10, titlePadding=3))


def yenc(field, domain, values, fmt, title, **kw):
    return alt.Y(f"{field}:Q", scale=alt.Scale(domain=domain, nice=False, zero=False),
                 axis=alt.Axis(title=title, values=values, format=fmt, **kw))


def legend(x, y, size, fs, offset, rowpad, colpad, pad):
    return alt.Legend(title=None, orient="none", legendX=x, legendY=y, columns=2,
                      symbolType="M-1,0H3", symbolSize=size, symbolStrokeWidth=2,
                      labelFont=FONT, labelFontSize=fs, labelColor=INK, labelOffset=offset,
                      rowPadding=rowpad, columnPadding=colpad, padding=pad,
                      strokeColor=GRID, fillColor="white", cornerRadius=3, labelLimit=400)


def text_mark(text, x, y, size, align="left"):
    return alt.Chart(ONE).mark_text(text=text, x=x, y=y, fontSize=size, font=FONT, color="black",
                                    align=align, baseline="alphabetic")


def phi_panel(vals, times, ydom, yvals, ytitle, leg_xy, extra=None, **axkw):
    entries = [(PHI_LABELS[k], times, vals[k]) for k in range(7)]
    names = PHI_LABELS[:]
    colors = PHI_COLORS[:]
    dashes = [[1, 0]] * 7
    if extra is not None:
        ename, evalue = extra
        entries.append((ename, [0.0, 5.0], [evalue, evalue]))
        names.append(ename)
        colors.append("black")
        dashes.append([1.6, 2.4])
    leg = legend(leg_xy[0], leg_xy[1], 240, 14.5, 24, 6, 29, 5)
    df = long_frame(entries)
    return alt.Chart(df).mark_line(clip=True, strokeWidth=2).encode(
        x=xenc(),
        y=yenc("v", ydom, yvals, ".1f", ytitle, **axkw),
        color=alt.Color("s:N", scale=alt.Scale(domain=names, range=colors), legend=leg),
        strokeDash=alt.StrokeDash("s:N", scale=alt.Scale(domain=names, range=dashes), legend=leg),
        order="i:Q",
    )


def energy_panel(series, total, cum, leg_xy, letter, letter_x, title, width,
                 rlab=17, rpad=3, rtitle=17, rtpad=6):
    leg = legend(leg_xy[0], leg_xy[1], 196, 13, 23, 3.3, 20, 3)
    cscale = alt.Scale(domain=EN_NAMES, range=EN_COLORS)
    ly = yenc("v", [-0.085, 7.0], [0, 1, 2, 3, 4, 5, 6, 7], "d",
              "changes in potential energy (J)", labelPadding=2, titlePadding=5)
    main = alt.Chart(long_frame(series)).mark_line(clip=True, strokeWidth=2).encode(
        x=xenc(), y=ly, color=alt.Color("s:N", scale=cscale, legend=leg), order="i:Q")
    tot = alt.Chart(long_frame([total])).mark_line(clip=True, strokeWidth=3).encode(
        x=xenc(), y=ly, color=alt.Color("s:N", scale=cscale, legend=leg), order="i:Q")
    left = alt.layer(main, tot)
    cdf = pd.DataFrame({"t": cum[0], "c": cum[1]})
    right = alt.Chart(cdf).mark_line(clip=True, strokeWidth=2, color="black").encode(
        x=xenc(),
        y=alt.Y("c:Q", scale=alt.Scale(domain=[-0.048, 2.0], nice=False, zero=False),
                axis=alt.Axis(orient="right", title="cumulative net energy input (J)",
                              values=[0, 0.5, 1.0, 1.5, 2.0], format=".1f", grid=False,
                              ticks=True, tickSize=6, tickColor=INK, tickWidth=1.2, offset=-6,
                              labelPadding=rpad, labelFontSize=rlab, titleFontSize=rtitle,
                              titleAngle=270, titleBaseline="top", titlePadding=rtpad)))
    return alt.layer(
        left, right,
        text_mark(letter, letter_x, 2, 27),
        text_mark(title, width / 2, -6, 17, align="center"),
        text_mark("1e\u221212", 0, -4, 15),
        text_mark("1e\u221210", width, -4, 15, align="right"),
    ).resolve_scale(y="independent").properties(width=width, height=306)


# ---------------- panels ----------------
band = alt.Chart(pd.DataFrame(A_BAND)).mark_rect(color="gray", opacity=0.24).encode(
    x="t0:Q", x2="t1:Q", y="lo:Q", y2="hi:Q")
panel_a = alt.layer(
    band,
    phi_panel(A_VALS, T25, [0.124, 1.046], [0.2, 0.4, 0.6, 0.8, 1.0], "normalized body length", (8, 356),
              labelPadding=10, titlePadding=5),
    text_mark("A", -56, 12, 27),
).properties(width=299, height=308)

panel_b = alt.layer(
    phi_panel(B_VALS, T05, [-0.028, 0.834], [0.0, 0.2, 0.4, 0.6, 0.8],
              ["normalized contraction speed", "in x-direction (1/msec)"], (-22, 356),
              extra=("experimental peak", B_PEAK), labelPadding=10, titlePadding=4, titleLineHeight=19),
    text_mark("B", -71, 12, 27),
).properties(width=299, height=308)

c_ref = alt.Chart(pd.DataFrame({"t": [0.0, 5.0], "v": [C_REF, C_REF]})).mark_line(
    color="black", strokeWidth=1.8, strokeDash=[5.5, 2.5]).encode(x="t:Q", y="v:Q")
panel_c = alt.layer(
    phi_panel(C_VALS, T05, [0.244, 1.04], [0.3, 0.4, 0.5, 0.6, 0.7, 0.8, 0.9, 1.0],
              ["normalized reactive force", "in x-direction"], (7, 356),
              labelPadding=10, titlePadding=4, titleLineHeight=19),
    c_ref,
    text_mark("C", -73, 12, 27),
).properties(width=297, height=308)

panel_d = alt.layer(
    phi_panel(D_VALS, T05, [-0.05, 1.081], [0.0, 0.2, 0.4, 0.6, 0.8, 1.0],
              "squeeze flow viscosity (Pa-sec)", (8, 355), extra=("estimation", D_EST),
              labelPadding=10, titlePadding=5),
    text_mark("D", -56, 2, 27),
).properties(width=299, height=306)

E_SERIES = [
    (EN_NAMES[0], T10, E_PP), (EN_NAMES[1], T25, E_AC), (EN_NAMES[2], T25, E_SB),
    (EN_NAMES[3], T25, E_STB), (EN_NAMES[4], T10, E_SS), (EN_NAMES[5], T05, E_IT),
    (EN_NAMES[6], T25, E_SST), (EN_NAMES[7], T25, E_PS), (EN_NAMES[8], T10, E_PB),
    (EN_NAMES[9], T25, E_SR),
]
F_SERIES = [
    (EN_NAMES[0], T10, F_PP), (EN_NAMES[1], T25, F_AC), (EN_NAMES[2], T25, F_SB),
    (EN_NAMES[3], T25, F_STB), (EN_NAMES[4], T10, F_SS), (EN_NAMES[5], T05, F_IT),
    (EN_NAMES[6], T25, F_SST), (EN_NAMES[7], T25, F_PS), (EN_NAMES[8], T10, F_PB),
    (EN_NAMES[9], T25, F_SR),
]

panel_e = energy_panel(E_SERIES, (EN_NAMES[10], T05, E_TOT), (T10, E_CUM), (-27, 352), "E", -50,
                       "ϕ = 0.795, ϕf = \u00a00.0", 299)
panel_f = energy_panel(F_SERIES, (EN_NAMES[10], F_TOT_T, F_TOT), (F_CUM_T, F_CUM), (-28, 352), "F", -46,
                       "ϕ = 0.795, ϕf = \u00a00.268", 297, rlab=16, rpad=1.5, rtitle=15, rtpad=0.5)

chart = alt.concat(
    panel_a, panel_b, panel_c, panel_d, panel_e, panel_f,
    columns=3, spacing={"row": 187, "column": 105}, bounds="flush",
).resolve_scale(
    color="independent", strokeDash="independent"
).properties(
    padding={"left": 2, "top": 10, "right": 0, "bottom": 0}
).configure(
    font=FONT
).configure_view(
    stroke=GRID, strokeWidth=1.25
).configure_axis(
    domain=False, ticks=False, gridColor=GRID, gridWidth=1.25,
    labelFont=FONT, labelFontSize=17, labelColor=INK, labelOverlap=False,
    titleFont=FONT, titleFontSize=17, titleFontWeight="normal", titleColor=INK,
)

chart.save("out.html", embed_options={"renderer": "svg", "actions": False})
